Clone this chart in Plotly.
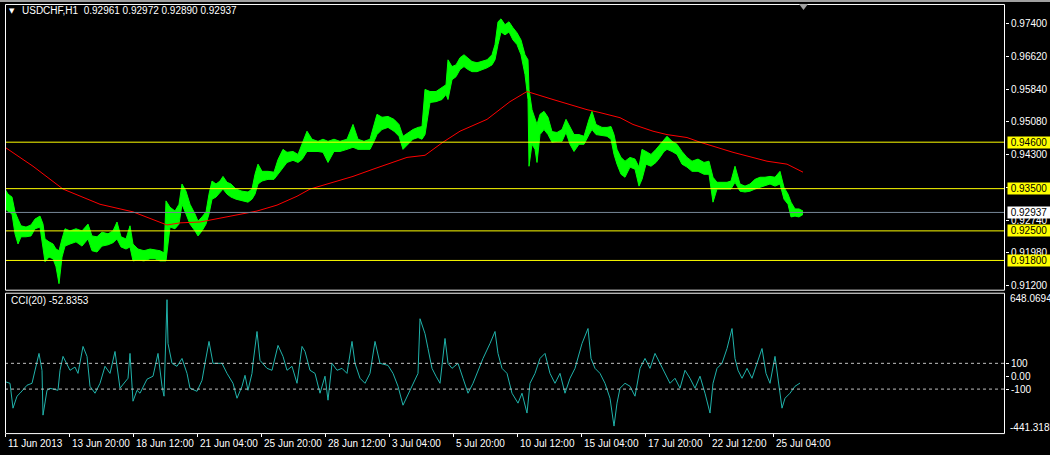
import plotly.graph_objects as go

# ---------------- DATA ----------------
symbol_title = "USDCHF,H1  0.92961 0.92972 0.92890 0.92937"
cci_title = "CCI(20) -52.8353"
last_price = 0.92937

# sampled hourly bars (bar index from 11 Jun 2013 00:00), high / low envelope
bars = [0, 3, 7, 10, 13, 16, 21, 26, 30, 35,
        38, 40, 44, 48, 51, 54, 57, 60, 65, 71,
        77, 83, 87, 92, 97, 103, 108, 112, 116, 121,
        125, 128, 133, 139, 145, 150, 155, 159, 161, 165,
        170, 174, 177, 181, 185, 190, 193, 197, 201, 204,
        207, 211, 215, 218, 222, 226, 231, 237, 243, 247,
        250, 253, 257, 263, 269, 273, 278, 282, 288, 293,
        297, 302, 307, 313, 318, 323, 329, 335, 342, 348,
        353, 359, 365, 369, 372, 377, 383, 389, 394, 398,
        403, 408, 413, 417, 420, 425, 431, 437, 441, 443,
        447, 451, 455, 459, 463, 467, 472, 477, 482, 487,
        490, 493, 496, 500, 504, 508, 512, 516, 520, 523,
        524, 527, 530, 532, 535, 539, 543, 547, 552, 557,
        561, 565, 569, 574, 579, 584, 587, 591, 597, 602,
        606, 609, 612, 616, 620, 625, 630, 634, 637, 641,
        646, 651, 655, 659, 662, 667, 672, 677, 682, 687,
        693, 699, 704, 708, 712, 717, 722, 726, 730, 735,
        740, 745, 750, 755, 760, 765, 770, 775, 779, 783,
        786, 790, 794, 798]
highs = [0.9349, 0.9337, 0.9330, 0.9295, 0.9278, 0.9262, 0.9259, 0.9264, 0.9278, 0.9285,
         0.9266, 0.9231, 0.9224, 0.9219, 0.9207, 0.9203, 0.9231, 0.9255, 0.9250, 0.9255,
         0.9250, 0.9266, 0.9238, 0.9236, 0.9247, 0.9243, 0.9250, 0.9271, 0.9236, 0.9231,
         0.9262, 0.9219, 0.9207, 0.9203, 0.9207, 0.9205, 0.9203, 0.9198, 0.9321, 0.9306,
         0.9297, 0.9313, 0.9361, 0.9344, 0.9313, 0.9290, 0.9273, 0.9283, 0.9295, 0.9337,
         0.9368, 0.9361, 0.9368, 0.9379, 0.9365, 0.9361, 0.9349, 0.9344, 0.9342, 0.9349,
         0.9384, 0.9408, 0.9391, 0.9391, 0.9389, 0.9419, 0.9443, 0.9436, 0.9438, 0.9431,
         0.9455, 0.9486, 0.9467, 0.9462, 0.9467, 0.9462, 0.9467, 0.9462, 0.9467, 0.9502,
         0.9467, 0.9462, 0.9467, 0.9502, 0.9526, 0.9519, 0.9521, 0.9514, 0.9502, 0.9474,
         0.9483, 0.9490, 0.9495, 0.9497, 0.9585, 0.9580, 0.9580, 0.9589, 0.9596, 0.9655,
         0.9639, 0.9643, 0.9660, 0.9667, 0.9660, 0.9651, 0.9648, 0.9651, 0.9655, 0.9667,
         0.9691, 0.9745, 0.9752, 0.9738, 0.9745, 0.9731, 0.9719, 0.9702, 0.9667, 0.9655,
         0.9585, 0.9537, 0.9514, 0.9502, 0.9526, 0.9533, 0.9519, 0.9485, 0.9483, 0.9490,
         0.9514, 0.9495, 0.9478, 0.9478, 0.9474, 0.9514, 0.9533, 0.9502, 0.9495, 0.9495,
         0.9497, 0.9478, 0.9443, 0.9424, 0.9415, 0.9424, 0.9420, 0.9401, 0.9443, 0.9438,
         0.9431, 0.9443, 0.9455, 0.9467, 0.9474, 0.9462, 0.9455, 0.9438, 0.9424, 0.9415,
         0.9420, 0.9412, 0.9415, 0.9377, 0.9365, 0.9365, 0.9365, 0.9368, 0.9403, 0.9361,
         0.9356, 0.9361, 0.9372, 0.9377, 0.9377, 0.9379, 0.9377, 0.9391, 0.9353, 0.9337,
         0.9318, 0.9302, 0.9302, 0.9297]
lows = [0.9302, 0.9297, 0.9290, 0.9243, 0.9219, 0.9236, 0.9236, 0.9238, 0.9255, 0.9259,
        0.9207, 0.9177, 0.9188, 0.9184, 0.9165, 0.9125, 0.9188, 0.9214, 0.9219, 0.9224,
        0.9214, 0.9231, 0.9203, 0.9200, 0.9214, 0.9217, 0.9222, 0.9231, 0.9212, 0.9207,
        0.9212, 0.9179, 0.9181, 0.9179, 0.9184, 0.9184, 0.9179, 0.9179, 0.9179, 0.9259,
        0.9255, 0.9266, 0.9313, 0.9290, 0.9266, 0.9250, 0.9238, 0.9250, 0.9266, 0.9290,
        0.9325, 0.9330, 0.9342, 0.9349, 0.9337, 0.9330, 0.9325, 0.9321, 0.9318, 0.9325,
        0.9337, 0.9361, 0.9368, 0.9372, 0.9372, 0.9384, 0.9401, 0.9412, 0.9417, 0.9412,
        0.9419, 0.9438, 0.9438, 0.9438, 0.9436, 0.9412, 0.9438, 0.9438, 0.9443, 0.9448,
        0.9443, 0.9443, 0.9443, 0.9462, 0.9478, 0.9490, 0.9495, 0.9486, 0.9474, 0.9443,
        0.9455, 0.9467, 0.9471, 0.9467, 0.9478, 0.9554, 0.9556, 0.9561, 0.9573, 0.9561,
        0.9608, 0.9615, 0.9632, 0.9639, 0.9632, 0.9627, 0.9627, 0.9632, 0.9636, 0.9643,
        0.9655, 0.9691, 0.9721, 0.9714, 0.9721, 0.9702, 0.9691, 0.9667, 0.9620, 0.9561,
        0.9403, 0.9455, 0.9443, 0.9412, 0.9478, 0.9490, 0.9478, 0.9460, 0.9462, 0.9462,
        0.9483, 0.9455, 0.9438, 0.9455, 0.9455, 0.9478, 0.9490, 0.9478, 0.9476, 0.9474,
        0.9467, 0.9431, 0.9408, 0.9384, 0.9377, 0.9401, 0.9396, 0.9356, 0.9372, 0.9408,
        0.9403, 0.9412, 0.9424, 0.9438, 0.9443, 0.9438, 0.9431, 0.9408, 0.9401, 0.9391,
        0.9391, 0.9384, 0.9384, 0.9318, 0.9349, 0.9349, 0.9349, 0.9349, 0.9365, 0.9344,
        0.9342, 0.9344, 0.9349, 0.9353, 0.9358, 0.9361, 0.9356, 0.9361, 0.9325, 0.9313,
        0.9283, 0.9285, 0.9283, 0.9289]

# moving average (red)
ma_bars = [0, 28, 58, 95, 128, 162, 175, 195, 252, 272, 292, 305, 328, 348, 368, 388,
           402, 420, 438, 455, 482, 505, 522, 548, 582, 595, 615, 628, 648, 662, 682,
           695, 728, 762, 782, 798]
ma_vals = [0.9448, 0.9403, 0.9349, 0.9313, 0.9295, 0.9264, 0.9269, 0.9271, 0.9297, 0.9311,
           0.9332, 0.9349, 0.9365, 0.9379, 0.9396, 0.9412, 0.9424, 0.9429, 0.9460, 0.9486,
           0.9514, 0.9556, 0.9580, 0.9561, 0.9537, 0.9530, 0.9518, 0.9502, 0.9486, 0.9478,
           0.9471, 0.9460, 0.9436, 0.9415, 0.9408, 0.9389]

# horizontal levels
levels = [0.946, 0.935, 0.925, 0.918]
level_labels = ["0.94600", "0.93500", "0.92500", "0.91800"]

# price axis ticks
price_ticks = [0.974, 0.9662, 0.9584, 0.9508, 0.943, 0.9352, 0.9274, 0.9198, 0.912]
price_tick_text = ["0.97400", "0.96620", "0.95840", "0.95080", "0.94300",
                   "0.93520", "0.92740", "0.91980", "0.91200"]
price_range = [0.91107, 0.97872]

# CCI (20)
cci_bars = [0, 5, 8, 12, 15, 22, 27, 30, 34, 37, 38, 42, 45, 53, 55, 58, 65, 70, 73, 78,
            82, 85, 90, 95, 100, 105, 110, 115, 123, 125, 128, 132, 135, 142, 148, 153,
            157, 159, 160, 162, 163, 167, 172, 177, 182, 185, 192, 197, 200, 204, 208,
            217, 222, 228, 232, 237, 240, 243, 247, 248, 252, 255, 262, 267, 273, 278,
            282, 287, 292, 297, 300, 305, 310, 315, 320, 323, 327, 332, 337, 342, 347,
            350, 355, 360, 365, 370, 375, 383, 388, 393, 398, 405, 413,
            415, 420, 423, 427, 431, 435, 440, 443, 447, 453, 458, 463, 468, 473, 478,
            485, 490, 493, 497, 502, 507, 513, 517, 522, 525, 530, 535, 540, 545, 550,
            555, 560, 565, 570, 577, 583, 586, 590, 595, 600, 605, 609, 612, 615, 620,
            625, 630, 635, 640, 645, 650, 655, 660, 665, 670, 675, 680, 685, 690, 695,
            700, 705, 708, 712, 717, 722, 727, 730, 733, 737, 742, 747, 752, 757, 761,
            765, 770, 774, 777, 780, 785, 790, 795, 798]
cci_vals = [-42, -55, -248, -155, -132, -70, -55, 38, 177, 46, -302, -109, -94, -109, 46,
            154, 46, 71, 22, 231, 154, -78, -132, -55, 77, 22, 192, -93, -16, 177, -194,
            -109, -132, -23, 0, 177, -78, -155, 177, 594, 254, 100, 77, 138, 22, -93, -117,
            -32, 100, 270, 100, 100, 22, -55, -171, -78, 7, -109, 22, 100, 347, 123, 61, 46,
            239, 154, 46, 77, -55, 231, 192, 46, 22, -132, 0, -186, 100, 46, 61, 22, 270,
            100, -16, -55, 22, 270, 100, 84, 22, -78, -225, -109, 22,
            446, 330, 215, 61, 0, -55, 293, 100, 61, 100, -16, -132, -55, 46, 138, 254,
            347, 177, 61, 22, -132, -209, -132, -286, -55, 22, 138, 177, 22, -55, 22,
            -132, -16, 61, 254, 370, 138, 61, 22, -55, -171, -387, -209, -93, -55, -78,
            -155, 61, 138, 61, 177, 100, 22, -55, -16, -93, 46, -16, -93, 0, -132, -286,
            -55, 61, 100, 215, 370, 138, 46, -16, 61, -16, 100, 215, 22, -55, 154, -93,
            -248, -171, -132, -78, -53]
cci_levels = [100, -100]
cci_ticks = [100, 0, -100]
cci_tick_text = ["100", "0.00", "-100"]
cci_range = [-441.3185, 648.0694]

# time axis
time_ticks = [0, 64, 128, 192, 256, 320, 384, 448, 512, 576, 640, 704, 768]
time_labels = ["11 Jun 2013", "13 Jun 20:00", "18 Jun 12:00", "21 Jun 04:00",
               "25 Jun 20:00", "28 Jun 12:00", "3 Jul 04:00", "5 Jul 20:00",
               "10 Jul 12:00", "15 Jul 04:00", "17 Jul 20:00", "22 Jul 12:00",
               "25 Jul 04:00"]

# ---------------- LAYOUT HELPERS ----------------
W, H = 1050, 455
FONT = "Liberation Sans"


def fx(p):
    return p / W


def fy(p):
    return 1 - p / H


fig = go.Figure()

# price envelope
fig.add_trace(go.Scatter(x=bars, y=highs, mode="lines",
                         line=dict(color="#00ff00", width=1),
                         xaxis="x2", yaxis="y", hoverinfo="skip", showlegend=False))
fig.add_trace(go.Scatter(x=bars, y=lows, mode="lines",
                         line=dict(color="#00ff00", width=1),
                         fill="tonexty", fillcolor="#00ff00",
                         xaxis="x2", yaxis="y", hoverinfo="skip", showlegend=False))
# moving average
fig.add_trace(go.Scatter(x=ma_bars, y=ma_vals, mode="lines",
                         line=dict(color="#ff0000", width=1),
                         xaxis="x2", yaxis="y", hoverinfo="skip", showlegend=False))
# CCI
fig.add_trace(go.Scatter(x=cci_bars, y=cci_vals, mode="lines",
                         line=dict(color="#20b2aa", width=1),
                         xaxis="x", yaxis="y2", hoverinfo="skip", showlegend=False))

shapes = []
# price levels
for lv in levels:
    shapes.append(dict(type="line", xref="paper", yref="y", x0=fx(5), x1=fx(1005),
                       y0=lv, y1=lv, line=dict(color="#ffff00", width=1)))
shapes.append(dict(type="line", xref="paper", yref="y", x0=fx(5), x1=fx(1005),
                   y0=last_price, y1=last_price, line=dict(color="#778899", width=1)))
# cci levels
for lv in cci_levels:
    shapes.append(dict(type="line", xref="paper", yref="y2", x0=fx(5), x1=fx(1005),
                       y0=lv, y1=lv, line=dict(color="#c0c0c0", width=1, dash="3px,3px")))
# panel frames
for (t, b) in [(4, 291), (294, 435)]:
    shapes.append(dict(type="rect", xref="paper", yref="paper",
                       x0=fx(5.5), x1=fx(1004.5), y0=fy(b + 0.5), y1=fy(t + 0.5),
                       line=dict(color="#ffffff", width=1), fillcolor="rgba(0,0,0,0)"))
# window top edge
shapes.append(dict(type="rect", xref="paper", yref="paper", x0=0, x1=1, y0=fy(2), y1=1,
                   line=dict(width=0), fillcolor="#a0a0a0"))
# chart shift marker (small grey triangle at the top edge)
shapes.append(dict(type="path", xref="paper", yref="paper",
                   path=f"M {fx(799)} {fy(4)} L {fx(808)} {fy(4)} L {fx(803.5)} {fy(10)} Z",
                   line=dict(width=0), fillcolor="#a0a0a0"))

annotations = []
# level labels
for lv, txt in zip(levels, level_labels):
    annotations.append(dict(xref="paper", yref="y", x=fx(1007), y=lv, text=txt,
                            xanchor="left", yanchor="middle", showarrow=False,
                            bgcolor="#ffff00", borderpad=0, width=42, align="center",
                            font=dict(family=FONT, size=10, color="#000000")))
annotations.append(dict(xref="paper", yref="y", x=fx(1007), y=last_price, text="0.92937",
                        xanchor="left", yanchor="middle", showarrow=False,
                        bgcolor="#ffffff", borderpad=0, width=42, align="center",
                        font=dict(family=FONT, size=10, color="#000000")))
# cci extreme labels
annotations.append(dict(xref="paper", yref="paper", x=fx(1008), y=fy(300),
                        text="648.0694", xanchor="left", yanchor="middle", showarrow=False,
                        font=dict(family=FONT, size=10, color="#ffffff")))
annotations.append(dict(xref="paper", yref="paper", x=fx(1008), y=fy(429),
                        text="-441.3185", xanchor="left", yanchor="middle", showarrow=False,
                        font=dict(family=FONT, size=10, color="#ffffff")))
# time labels (left aligned on ticks)
for tv, tl in zip(time_ticks, time_labels):
    annotations.append(dict(xref="x", yref="paper", x=tv, y=fy(445), text=tl,
                            xanchor="left", yanchor="middle", showarrow=False, xshift=1,
                            font=dict(family=FONT, size=10, color="#ffffff")))
# titles
annotations.append(dict(xref="paper", yref="paper", x=fx(20), y=fy(11), text=symbol_title,
                        xanchor="left", yanchor="middle", showarrow=False,
                        font=dict(family=FONT, size=10, color="#ffffff")))
annotations.append(dict(xref="paper", yref="paper", x=fx(7), y=fy(11), text="▼",
                        xanchor="left", yanchor="middle", showarrow=False,
                        font=dict(family="DejaVu Sans", size=7, color="#ffffff")))
annotations.append(dict(xref="paper", yref="paper", x=fx(9), y=fy(302), text=cci_title,
                        xanchor="left", yanchor="middle", showarrow=False,
                        font=dict(family=FONT, size=10, color="#ffffff")))

axis_font = dict(family=FONT, size=10, color="#ffffff")
fig.update_layout(
    width=W, height=H,
    margin=dict(l=0, r=0, t=0, b=0),
    paper_bgcolor="#000000",
    plot_bgcolor="rgba(0,0,0,0)",
    showlegend=False,
    xaxis=dict(domain=[fx(5), fx(1005)], range=[0, 1000], anchor="y2",
               tickvals=time_ticks, ticktext=[""] * len(time_ticks),
               ticks="outside", ticklen=3, tickcolor="#ffffff",
               showgrid=False, zeroline=False, showline=False),
    xaxis2=dict(domain=[fx(5), fx(1005)], range=[0, 1000], anchor="y", matches="x",
                showticklabels=False, ticks="", showgrid=False, zeroline=False, showline=False),
    yaxis=dict(domain=[fy(291), fy(4)], range=price_range, anchor="x2", side="right",
               tickvals=price_ticks, ticktext=price_tick_text,
               ticks="outside", ticklen=3, tickcolor="#ffffff", tickfont=axis_font,
               showgrid=False, zeroline=False, showline=False),
    yaxis2=dict(domain=[fy(435), fy(294)], range=cci_range, anchor="x", side="right",
                tickvals=cci_ticks, ticktext=cci_tick_text,
                ticks="outside", ticklen=3, tickcolor="#ffffff", tickfont=axis_font,
                showgrid=False, zeroline=False, showline=False),
    shapes=shapes,
    annotations=annotations,
)

fig.write_html(
    "out.html",
    config={"displayModeBar": False},
    post_script="document.body.style.margin='0px';document.body.style.background='#000000';",
)
